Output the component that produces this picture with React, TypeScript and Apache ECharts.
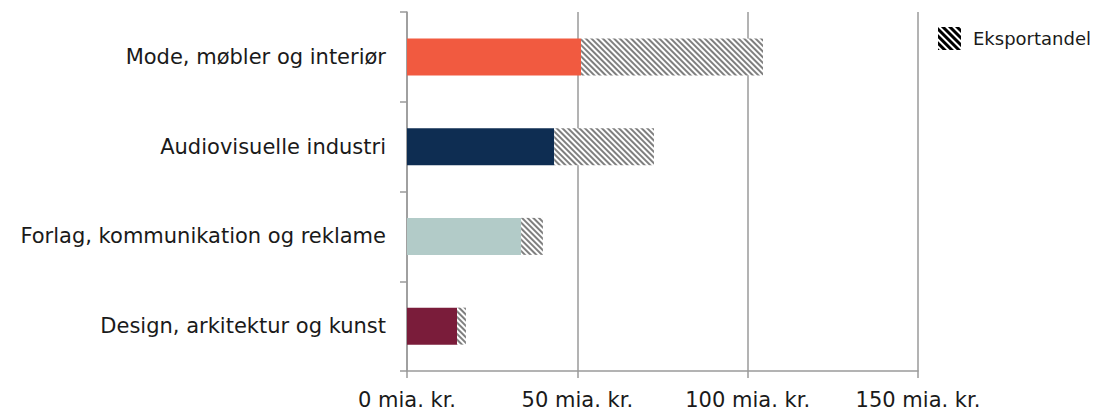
import React, { useEffect, useRef } from "react";
import * as echarts from "echarts";

const categories = [
  "Design, arkitektur og kunst",
  "Forlag, kommunikation og reklame",
  "Audiovisuelle industri",
  "Mode, møbler og interiør",
];
const domesticValues = [14.7, 33.5, 43.2, 51.1];
const exportValues = [2.6, 6.4, 29.3, 53.4];
const barColors = ["#7A1C3A", "#B2CBC8", "#0E2D52", "#F15A40"];
const xTicks = [0, 50, 100, 150];
const exportName = "Eksportandel";

const FONT = "'DejaVu Sans', sans-serif";

export default function App() {
  const ref = useRef<HTMLDivElement>(null);
  useEffect(() => {
    if (!ref.current) return;
    const chart = echarts.init(ref.current, undefined, { renderer: "svg" });
    const hatch = {
      symbol: "rect",
      color: "#7F7F7F",
      backgroundColor: "#FFFFFF",
      dashArrayX: [1, 0],
      dashArrayY: [2, 2],
      rotation: Math.PI / 4,
    };
    chart.setOption({
      animation: false,
      textStyle: { fontFamily: FONT },
      grid: { left: 407, right: 197, top: 12, bottom: 41, containLabel: false },
      legend: {
        left: 933,
        top: 22,
        orient: "vertical",
        icon: "rect",
        itemWidth: 23,
        itemHeight: 23,
        selectedMode: false,
        textStyle: { fontFamily: FONT, fontSize: 18, color: "#1A1A1A", padding: [6, 0, 0, 7] },
        data: [
          {
            name: exportName,
            itemStyle: {
              color: "#FFFFFF",
              decal: { ...hatch, color: "#000000", dashArrayY: [2.4, 1.6] },
            },
          },
        ],
      },
      xAxis: {
        type: "value",
        min: xTicks[0],
        max: xTicks[xTicks.length - 1],
        interval: 50,
        axisLine: { show: true, lineStyle: { color: "#9A9A9A", width: 1.5 } },
        axisTick: { show: true, length: 7, lineStyle: { color: "#9A9A9A", width: 1.5 } },
        splitLine: { show: true, lineStyle: { color: "#9A9A9A", width: 1.5 } },
        axisLabel: {
          margin: 18,
          fontFamily: FONT,
          fontSize: 21,
          color: "#1A1A1A",
          formatter: (v: number) => `${v} mia. kr.`,
        },
      },
      yAxis: {
        type: "category",
        data: categories,
        axisLine: { show: true, lineStyle: { color: "#9A9A9A", width: 1.5 } },
        axisTick: { show: true, length: 7, lineStyle: { color: "#9A9A9A", width: 1.5 } },
        axisLabel: { margin: 21, fontFamily: FONT, fontSize: 21, color: "#1A1A1A" },
      },
      series: [
        {
          name: "Indenlandsk",
          type: "bar",
          stack: "total",
          barWidth: 37,
          data: domesticValues.map((v, i) => ({ value: v, itemStyle: { color: barColors[i] } })),
        },
        {
          name: exportName,
          type: "bar",
          stack: "total",
          barWidth: 37,
          itemStyle: { color: "#FFFFFF", decal: hatch },
          data: exportValues,
        },
      ],
    });
    return () => chart.dispose();
  }, []);
  return (
    <div
      ref={ref}
      style={{ position: "fixed", left: 0, top: 0, width: 1115, height: 412, background: "#fff" }}
    />
  );
}
